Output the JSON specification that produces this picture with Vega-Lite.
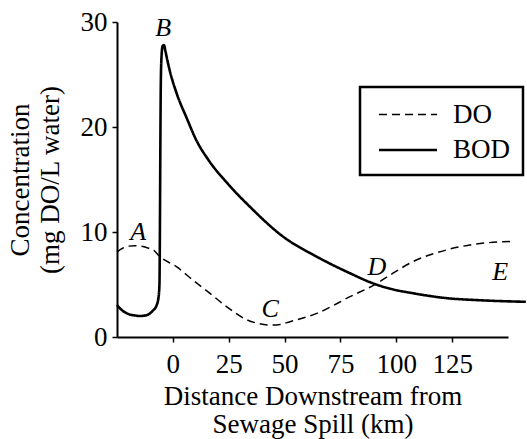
{
  "$schema": "https://vega.github.io/schema/vega-lite/v6.json",
  "autosize": "none",
  "width": 391,
  "height": 315,
  "padding": {"left": 117, "top": 22, "right": 19, "bottom": 102},
  "background": "white",
  "config": {
    "view": {"stroke": null},
    "font": "Liberation Serif",
    "axis": {
      "domainColor": "black", "domainWidth": 2, "tickColor": "black", "tickWidth": 1.5,
      "labelFont": "Liberation Serif", "labelFontSize": 27, "labelColor": "black",
      "titleFont": "Liberation Serif", "titleFontSize": 27, "titleFontWeight": "normal", "titleColor": "black",
      "grid": false
    },
    "legend": {"strokeWidth": 2.5}
  },
  "datasets": {
    "curves": [
      {"x": -25, "c": 3.05, "s": "BOD"}, {"x": -22.5, "c": 2.5, "s": "BOD"}, {"x": -20, "c": 2.2, "s": "BOD"},
      {"x": -17, "c": 2.05, "s": "BOD"}, {"x": -14.5, "c": 2.0, "s": "BOD"}, {"x": -11.5, "c": 2.1, "s": "BOD"},
      {"x": -9, "c": 2.5, "s": "BOD"}, {"x": -7.3, "c": 3.0, "s": "BOD"}, {"x": -6.4, "c": 3.8, "s": "BOD"},
      {"x": -6.0, "c": 5, "s": "BOD"}, {"x": -5.8, "c": 10, "s": "BOD"}, {"x": -5.6, "c": 18, "s": "BOD"},
      {"x": -5.4, "c": 24, "s": "BOD"}, {"x": -5.1, "c": 26.6, "s": "BOD"}, {"x": -4.6, "c": 27.7, "s": "BOD"},
      {"x": -4.0, "c": 27.8, "s": "BOD"}, {"x": -3.3, "c": 27.2, "s": "BOD"}, {"x": -2.3, "c": 26.2, "s": "BOD"},
      {"x": -1.3, "c": 25.3, "s": "BOD"}, {"x": 1.7, "c": 23.2, "s": "BOD"}, {"x": 6.1, "c": 20.9, "s": "BOD"},
      {"x": 10.6, "c": 18.7, "s": "BOD"}, {"x": 15.8, "c": 16.9, "s": "BOD"}, {"x": 25, "c": 14.5, "s": "BOD"},
      {"x": 34.5, "c": 12.4, "s": "BOD"}, {"x": 49.4, "c": 9.55, "s": "BOD"}, {"x": 64.4, "c": 7.65, "s": "BOD"},
      {"x": 79.3, "c": 6.07, "s": "BOD"}, {"x": 89.7, "c": 5.1, "s": "BOD"}, {"x": 97.2, "c": 4.6, "s": "BOD"},
      {"x": 107.7, "c": 4.16, "s": "BOD"}, {"x": 122.6, "c": 3.7, "s": "BOD"}, {"x": 137.5, "c": 3.5, "s": "BOD"},
      {"x": 158, "c": 3.35, "s": "BOD"},
      {"x": -25, "c": 8.1, "s": "DO"}, {"x": -22.5, "c": 8.45, "s": "DO"}, {"x": -20, "c": 8.65, "s": "DO"},
      {"x": -17, "c": 8.7, "s": "DO"}, {"x": -14.5, "c": 8.65, "s": "DO"}, {"x": -11.5, "c": 8.5, "s": "DO"},
      {"x": -8.8, "c": 8.3, "s": "DO"}, {"x": -5.8, "c": 7.65, "s": "DO"}, {"x": 1.6, "c": 6.7, "s": "DO"},
      {"x": 9.1, "c": 5.4, "s": "DO"}, {"x": 16.6, "c": 4.16, "s": "DO"}, {"x": 24, "c": 2.9, "s": "DO"},
      {"x": 33, "c": 1.65, "s": "DO"}, {"x": 38, "c": 1.3, "s": "DO"}, {"x": 43.5, "c": 1.14, "s": "DO"},
      {"x": 48, "c": 1.2, "s": "DO"}, {"x": 52.4, "c": 1.46, "s": "DO"}, {"x": 64.4, "c": 2.25, "s": "DO"},
      {"x": 79.3, "c": 3.84, "s": "DO"}, {"x": 91.3, "c": 5.1, "s": "DO"}, {"x": 97.2, "c": 5.9, "s": "DO"},
      {"x": 107.7, "c": 7.2, "s": "DO"}, {"x": 122.6, "c": 8.3, "s": "DO"}, {"x": 137.5, "c": 8.9, "s": "DO"},
      {"x": 152.5, "c": 9.1, "s": "DO"}
    ],
    "labels": [
      {"x": -15.5, "c": 10.0, "t": "A"}, {"x": -4.3, "c": 29.4, "t": "B"}, {"x": 43.5, "c": 2.7, "t": "C"},
      {"x": 91.3, "c": 6.7, "t": "D"}, {"x": 146.5, "c": 6.2, "t": "E"}
    ]
  },
  "layer": [
    {
      "data": {"name": "curves"},
      "mark": {"type": "line", "interpolate": "monotone", "color": "black"},
      "encoding": {
        "x": {"field": "x", "type": "quantitative", "scale": {"domain": [-25, 150], "nice": false, "zero": false},
              "axis": {"values": [0, 25, 50, 75, 100, 125], "tickSize": 5, "labelPadding": 9,
                       "title": ["Distance Downstream from", "Sewage Spill (km)"], "titleLineHeight": 28, "titlePadding": 6}},
        "y": {"field": "c", "type": "quantitative", "scale": {"domain": [0, 30], "nice": false},
              "axis": {"values": [0, 10, 20, 30], "tickSize": 5, "labelPadding": 5,
                       "title": ["Concentration", "(mg DO/L water)"], "titleLineHeight": 30, "titlePadding": 16}},
        "strokeDash": {"field": "s", "type": "nominal",
                       "scale": {"domain": ["DO", "BOD"], "range": [[8, 5], [1, 0]]},
                       "legend": {"title": null, "orient": "none", "legendX": 243, "legendY": 65,
                                  "strokeColor": "black", "padding": 12, "symbolType": "M-2,0H2",
                                  "symbolSize": 841, "symbolOffset": 20, "labelFont": "Liberation Serif",
                                  "labelFontSize": 27, "labelColor": "black", "labelOffset": 29, "rowPadding": 6,
                                  "symbolStrokeColor": "black"}},
        "strokeWidth": {"field": "s", "type": "nominal",
                        "scale": {"domain": ["DO", "BOD"], "range": [1.5, 2.6]},
                        "legend": {"title": null, "orient": "none", "legendX": 243, "legendY": 65,
                                   "strokeColor": "black", "padding": 12, "symbolType": "M-2,0H2",
                                   "symbolSize": 841, "symbolOffset": 20, "labelFont": "Liberation Serif",
                                   "labelFontSize": 27, "labelColor": "black", "labelOffset": 29, "rowPadding": 6,
                                   "symbolStrokeColor": "black"}}
      }
    },
    {
      "data": {"name": "labels"},
      "mark": {"type": "text", "font": "Liberation Serif", "fontSize": 26, "fontStyle": "italic", "color": "black", "align": "center", "baseline": "middle"},
      "encoding": {
        "x": {"field": "x", "type": "quantitative"},
        "y": {"field": "c", "type": "quantitative"},
        "text": {"field": "t"}
      }
    }
  ]
}
